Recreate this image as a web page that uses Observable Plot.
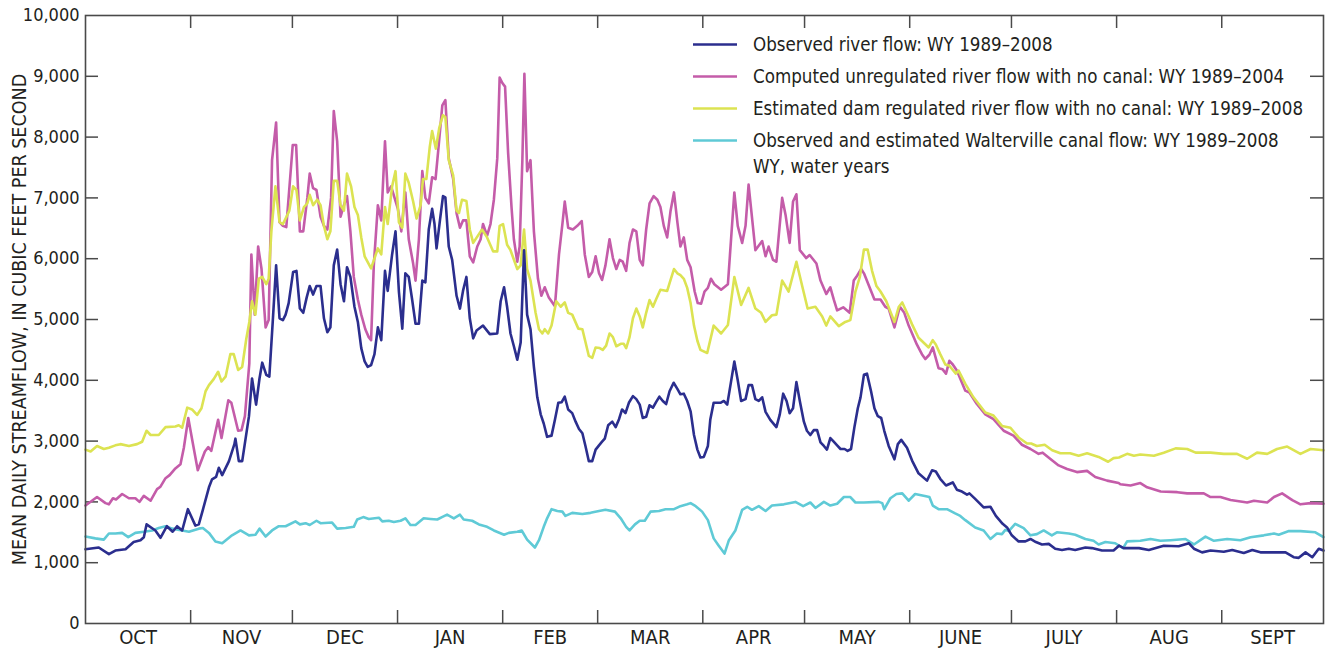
<!DOCTYPE html>
<html>
<head>
<meta charset="utf-8">
<script src="https://cdn.jsdelivr.net/npm/d3@7"></script>
<script src="https://cdn.jsdelivr.net/npm/@observablehq/plot@0.6"></script>
<style>
  html, body { margin: 0; padding: 0; background: #fff; }
  svg { display: block; }
  svg text { font-stretch: condensed; }
</style>
</head>
<body>
<div id="chart"></div>
<script>
// Day of water year (0 = Oct 1) and mean daily streamflow (cfs)
const observedFlow = [[0,1220],[3.9,1250],[6.9,1140],[8.8,1200],[11.8,1220],[14.2,1340],[16.2,1370],[17.2,1420],[18,1630],[20.6,1530],[22.1,1410],[24,1600],[25.7,1510],[27,1600],[28.5,1530],[30.2,1880],[32.4,1610],[33.4,1630],[34.6,1870],[36.4,2240],[37.3,2370],[38.5,2410],[39.3,2560],[40.3,2440],[42.3,2670],[43.9,2950],[44.2,3040],[45.2,2670],[46.2,2670],[48.2,3410],[49.1,4030],[50.3,3600],[51.3,4030],[52.1,4290],[53.3,4090],[54.2,4060],[55.2,4960],[56.2,5890],[57.2,5020],[58.2,4990],[59,5080],[59.9,5270],
[61.2,5780],[62.2,5800],[63.2,5180],[64.2,5110],[65.2,5360],[66.1,5550],[67.1,5410],[68.1,5550],[69.3,5550],[70.3,5020],[71.3,4790],[72.2,4870],[73.2,5890],[74.2,6150],[75.2,5580],[76.2,5300],[77.1,5860],[78.1,5700],[79.3,5210],[80.3,4960],[81.3,4530],[82.3,4310],[83.2,4220],[84.2,4250],[85.2,4430],[86.2,4870],[87.2,4660],[88.3,5800],[89.1,5470],[90.4,6070],[91.4,6450],[92.4,5460],[93.4,4850],[94.3,5760],[95.3,5700],[96.3,5330],[97.3,4930],[98.3,4930],[99.3,5640],[100.2,5610],[101.2,6480],[102.2,6820],[102.9,6570],[103.5,6170],[104.5,6630],[105.4,7030],[106.1,7010],[107.1,6200],[108.1,5980],[109.4,5390],[110.4,5180],[111.3,5470],[112.3,5700],[113.3,5020],[114.3,4690],[115.3,4820],[117.2,4900],[119.2,4760],[121.4,4770],
[122.4,5300],[123.4,5530],[124.3,5210],[125.3,4770],[126.3,4560],[127.3,4340],[128.3,4620],[129.3,6140],[130.2,5080],[131.2,4840],[132.2,4220],[133.2,3720],[134.2,3440],[135.1,3290],[136.1,3070],[137.4,3090],[138.4,3350],[139.4,3630],[140.4,3640],[141.3,3730],[142.3,3520],[143.5,3460],[144.5,3320],[145.5,3200],[146.5,3130],[147.4,2920],[148.4,2670],[149.4,2670],[150.4,2860],[151.4,2930],[152.3,2990],[153.1,3040],[154.1,3260],[155.3,3320],[156.3,3230],[157.3,3360],[158.2,3520],[159.2,3460],[160.2,3630],[161.4,3740],[162.4,3690],[163.4,3600],[164.3,3380],[165.3,3400],[166.3,3590],[167.3,3550],[168.3,3650],[169.2,3730],[170.2,3660],[171.2,3610],[172.2,3820],[173.4,3960],[174.5,3860],[175.4,3770],[176.4,3780],[177.4,3660],[178.4,3490],[179.4,3100],[180.4,2860],[181.3,2730],
[182.3,2740],[183.5,2920],[184.2,3350],[185.2,3630],[187.2,3630],[188.2,3660],[189.2,3600],[190.3,3970],[191.3,4310],[192.3,4000],[193.3,3660],[194.6,3690],[195.5,3920],[196.5,3920],[197.5,3690],[198.5,3660],[199.5,3720],[200.5,3480],[201.9,3350],[203.7,3230],[204.7,3440],[205.7,3780],[206.7,3660],[207.6,3460],[208.6,3540],[209.6,3970],[210.6,3660],[211.8,3320],[212.7,3170],[213.7,3100],[214.7,3180],[215.7,3180],[216.7,2980],[217.7,2920],[218.6,2860],[219.6,3050],[220.6,2990],[221.6,2930],[222.6,2870],[223.8,2870],[224.7,2840],[225.7,2870],[226.7,3230],[227.7,3540],[228.5,3720],[229.5,4090],[230.4,4110],[231.6,3820],[232.6,3540],[233.6,3410],[234.6,3380],[235.5,3170],[236.8,2920],[238.5,2700],[239.5,2950],[240.5,3020],[242.2,2890],
[243.7,2680],[245.6,2470],[248.1,2350],[249.6,2520],[250.7,2500],[252,2380],[253.7,2270],[255.7,2320],[256.9,2200],[258.4,2170],[259.9,2120],[260.6,2140],[262.3,2050],[264.8,1910],[266.8,1920],[268.4,1770],[270.4,1640],[271.7,1580],[273.1,1450],[275.1,1350],[277.1,1350],[278.6,1390],[280.2,1340],[282,1300],[284,1310],[285.9,1230],[287.9,1210],[289.9,1230],[291.8,1210],[294.8,1250],[296.7,1240],[299.7,1200],[303.1,1200],
[304.7,1280],[306.1,1240],[310.6,1240],[313.5,1210],[317.9,1280],[322.3,1270],[325.3,1320],[326.8,1230],[329.2,1170],[331.7,1200],[335.6,1180],[338.1,1210],[341.5,1160],[344,1210],[346.4,1170],[353.8,1170],[356.2,1090],[357.7,1080],[359.7,1170],[361.7,1090],[363.6,1230],[365,1200]];

const computedFlow = [[0,1940],[3.4,2080],[5.9,1980],[6.9,1960],[8.1,2060],[9,2040],[10.8,2130],[12.8,2060],[14.7,2060],[15.9,2000],[17.2,2100],[19.2,2020],[21.1,2210],[22.1,2250],[23.6,2390],[24.8,2440],[26.5,2550],[28,2620],[29,2890],[30.3,3380],[31.4,3040],[33.1,2520],[35.2,2830],[36.2,2900],[37.1,2840],[39.1,3350],[40.1,3050],[42.1,3670],[43,3630],[45,3170],[46,3180],[47,3410],[48.3,4280],[48.9,6070],[49.9,5080],[50.9,6200],[51.9,5830],[53.1,4870],[54,4990],[55,7620],[56.2,8240],[57.2,6600],[58.2,6540],[59.2,6520],[61.1,7870],[62.1,7870],
[63.2,6450],[64.2,6450],[65.4,7000],[66.1,7400],[67.1,7160],[68.1,7130],[69.3,6690],[70.3,6540],[71.3,6480],[72.4,7000],[73.2,8430],[74.2,7930],[75.2,6690],[76.2,6880],[77.1,7030],[78.1,6450],[79.1,5700],[80.3,5330],[81.3,5080],[82.5,4840],[83.5,4710],[84.2,4660],[85,5890],[86.2,6880],[87.2,6630],[88.3,7930],[89.1,7090],[90.1,7190],[92.1,6820],[93.1,6450],[94.3,7090],[95.3,6320],[96.6,5920],[97.3,5640],[98.3,6320],[99.3,7440],[100.2,7000],[101.2,6910],[102.2,7340],[103.2,7310],[104,7780],[105.2,8520],[106.1,8610],[107.1,7650],[108.4,7310],[109.4,6750],[110.4,6510],[111.3,6630],[112.3,6630],[113.3,6040],[114.3,5940],[115.5,6200],[116.5,6320],[117.2,6570],[118.4,6380],[119.4,6570],[120.4,6970],[121.4,7650],
[122.1,8980],[122.9,8890],[123.7,8830],[124.6,7740],[125.6,6850],[126.3,6320],[127.3,5950],[128,6200],[128.8,7620],[129.4,9040],[130.2,7440],[131.2,7620],[132.2,6450],[133.4,5670],[134.4,5390],[135.4,5530],[136.6,5360],[138.4,5220],[139.6,6070],[140.6,6570],[141.3,6940],[142.3,6510],[143.7,6480],[145,6540],[146.3,6620],[147.2,6070],[148.4,5700],[149.4,5780],[150.4,6040],[151.4,5760],[152.3,5650],[153.3,5890],[154.5,6320],[155.5,6010],[156.5,5830],[157.5,5980],[158.4,5950],[159.4,5800],[160.4,6260],[161.4,6480],[162.4,6450],[163.4,5980],[164.3,5890],[165.3,6480],[166.3,6910],[167.5,7030],[168.6,6970],[169.5,6850],[170.5,6540],[171.5,6350],[172.5,6790],[173.5,7090],[174.5,6600],[175.4,6200],[176.4,6350],[177.4,5980],[178.4,5860],[179.6,5460],[180.5,5270],[181.5,5260],
[182.5,5460],[183.5,5520],[184.4,5670],[185.4,5580],[187.4,5490],[189.4,5580],[191.3,7090],[192.3,6540],[193.6,6260],[194.6,6540],[195.5,7220],[197.5,6140],[199.5,6290],[200.5,6040],[201.4,6200],[202.7,5980],[203.7,5950],[205.4,7000],[206.4,6720],[207.6,6260],[208.6,6940],[209.6,7060],[210.6,6140],[212.5,6010],[213.5,6060],[215.5,5920],[216.7,5640],[218.4,5420],[219.6,5530],[220.6,5330],[221.6,5150],[223.4,5200],[225.3,5110],[226.5,5640],[227.5,5720],[228.7,5830],[229.6,5750],[232.6,5330],[234.4,5330],[235.8,5210],[236.8,5180],[238.5,4870],[240.1,5210],[241.4,5110],[242.7,4900],
[245.1,4590],[246.6,4430],[247.6,4350],[248.8,4420],[249.8,4540],[251.5,4200],[252.7,4180],[253.7,4110],[254.7,4320],[255.7,4260],[256.9,4160],[259.4,3830],[260.6,3800],[262.8,3610],[265.3,3440],[267.7,3360],[270.7,3170],[273.6,3090],[276.1,2940],[278.6,2870],[281,2790],[282.2,2810],[284.4,2710],[286.9,2600],[289.4,2540],[292.3,2490],[295.3,2510],[297.7,2410],[301.2,2350],[304.6,2310],
[305.1,2290],[308.1,2270],[311,2310],[313,2240],[317,2170],[321.9,2160],[324.8,2140],[329.7,2140],[331.7,2080],[334.6,2080],[337.6,2030],[342.5,1990],[344.5,2020],[348.4,1990],[350.4,2080],[352.8,2140],[355.8,2030],[358.2,1960],[361.2,1980],[365,1970]];

const estimatedFlow = [[0,2860],[1.5,2830],[3.4,2920],[5.4,2870],[6.9,2890],[8.8,2930],[10.3,2950],[12.8,2920],[15.2,2950],[16.7,2990],[18,3170],[19.2,3100],[21.6,3100],[23.6,3230],[26.5,3240],[27.5,3260],[28.5,3220],[30,3550],[31.4,3520],[32.9,3430],[34.2,3540],[35.4,3820],[36.4,3920],[37.8,4020],[39.1,4140],[40.1,3980],[41.3,4060],[42.7,4430],[43.7,4430],[45,4170],[46.2,4220],[47.4,4680],[48.3,4960],[49.1,5300],[50.1,5080],[51.1,5670],[52.1,5700],[53.3,5580],[54,5670],[54.8,6450],[56,7190],[57.2,6600],[58.2,6570],[59,6660],[60.1,6790],
[61.2,7190],[62.2,7130],[63.2,6630],[64.4,6850],[65.4,6910],[66.1,7050],[67.1,6880],[68.3,6970],[69.3,6880],[70.3,6540],[71.3,6320],[72.2,6450],[73.2,7280],[74.2,7280],[75.2,6880],[76.2,6790],[77.1,7400],[78.3,7190],[79.3,6850],[80.3,6720],[81.3,6350],[82.3,6040],[84.2,5840],[86.2,6170],[87.2,6070],[88.3,6850],[89.1,6570],[90.4,7190],[91.4,7440],[92.4,6600],[93.4,6510],[94.3,7400],[95.3,7250],[96.6,6940],[97.6,6660],[98.8,6880],[99.5,7310],[100.5,7310],[101.5,7840],[102.2,8100],[103.3,7810],[104.3,8150],[105.4,8360],[106.1,8330],[107.1,7620],[108.4,7370],[109.4,6790],[110.1,6750],[111,6970],[112.3,6950],[113.3,6480],[114.3,6260],[115.7,6380],[116.9,6480],[118.4,6350],[120.2,6120],[121.4,6120],
[122.1,6540],[123.1,6570],[124.3,6230],[125.3,6140],[127.3,5830],[128.3,5890],[129.3,6480],[130.2,5830],[131.2,5640],[132.7,5110],[133.7,4840],[134.7,4770],[135.4,4840],[136.4,4770],[137.4,4900],[138.8,5300],[140.1,5210],[141.3,5280],[142.3,5110],[143.5,5080],[145.3,4850],[146.5,4840],[148.4,4400],[149.4,4370],[150.4,4540],[151.6,4530],[152.5,4500],[153.5,4570],[154.5,4770],[155.5,4710],[156.5,4560],[157.8,4600],[158.7,4600],[159.4,4530],[160.4,4710],[161.4,5020],[162.4,5180],[163.4,5050],[164.3,4870],[165.3,5110],[166.3,5320],[167.3,5210],[168.3,5340],[169.5,5490],[171.5,5470],[172.5,5650],[173.5,5830],[174.5,5760],[175.4,5730],[176.4,5670],[177.4,5520],[178.4,5270],[179.4,4900],[180.4,4650],[181.3,4500],
[183.3,4450],[185.2,4900],[187.4,4770],[189.4,4910],[191.3,5700],[193.3,5240],[195.5,5520],[197.5,5180],[199.2,5110],[200.5,4960],[202.4,5070],[203.7,5080],[205.4,5640],[207.3,5460],[209.6,5950],[211.3,5550],[212.9,5180],[215.2,5210],[217.2,5050],[218.4,4900],[219.6,5050],[222.1,4890],[224,4960],[225.5,4990],[227,5460],[228.3,5700],[229.5,6150],[230.6,6150],[231.9,5800],[233.2,5550],[234.4,5460],[236.1,5300],[238.5,4960],[239.8,5210],[240.8,5280],[242.7,5050],
[243.7,4920],[245.6,4700],[248.6,4540],[249.8,4660],[250.7,4590],[252,4430],[253.5,4260],[254.7,4240],[256.6,4110],[257.4,4160],[259.4,3940],[261.8,3720],[265.3,3470],[267.7,3420],[270.2,3250],[272.7,3220],[275.1,3060],[277.6,2960],[278.8,2960],[280.5,2920],[282.8,2940],[285,2850],[287.4,2800],[290.3,2800],[292.8,2760],[295.3,2800],[298.7,2740],[301.5,2660],[303.1,2720],
[304.7,2730],[307.1,2790],[309.1,2760],[311,2780],[315,2760],[317.9,2810],[321.4,2880],[324.8,2870],[327.3,2810],[331.7,2810],[335.6,2790],[339.5,2790],[342.5,2710],[345.4,2810],[348.4,2790],[351.3,2870],[354.3,2910],[358.2,2790],[361.2,2870],[365,2850]];

const canalFlow = [[0,1430],[2.9,1400],[5.4,1380],[6.9,1480],[8.8,1480],[10.8,1490],[12.6,1420],[14.7,1490],[17.2,1510],[19.7,1530],[21.6,1570],[23.6,1600],[25.6,1560],[28.5,1530],[30.5,1510],[33.4,1560],[34.6,1570],[36.4,1490],[38.3,1350],[40.3,1320],[43.2,1450],[45.7,1530],[48.2,1450],[50.1,1460],[51.3,1560],[53.1,1430],[55,1530],[57,1600],[59,1600],
[61.9,1680],[63.2,1630],[64.9,1650],[66.1,1620],[68.1,1690],[69.3,1650],[72.7,1660],[74.2,1560],[76.7,1570],[79.1,1590],[80.1,1710],[81.9,1750],[83.5,1720],[86.5,1740],[87.5,1680],[89.4,1690],[90.9,1670],[92.9,1690],[94.3,1730],[95.8,1620],[97.3,1620],[99.7,1730],[101.7,1720],[103.7,1710],[105.1,1750],[106.6,1790],[108.6,1730],[110.4,1790],[111.5,1710],[114,1690],[116,1630],[118.4,1590],[120.4,1530],
[123.4,1460],[124.8,1490],[127.3,1510],[128.6,1530],[130.2,1380],[132.5,1250],[133.7,1370],[135.1,1590],[136.1,1730],[137.4,1880],[139.1,1850],[140.6,1840],[141.5,1770],[143.5,1820],[146.5,1800],[148.9,1820],[151.4,1850],[153.3,1870],[156.1,1840],[157.8,1730],[159.4,1590],[160.4,1530],[162,1630],[163.4,1690],[164.9,1690],[166.6,1840],[169.1,1850],[171,1880],[173.5,1880],[175.4,1930],[177.4,1960],[178.4,1980],[179.9,1930],[181.8,1840],
[183.5,1700],[185.2,1400],[186.7,1280],[188.4,1150],[189.7,1370],[191.6,1530],[193.6,1870],[195.1,1920],[196.5,1870],[198.5,1930],[200.5,1850],[202.4,1940],[205.9,1960],[209.3,2000],[211.6,1930],[213.7,1990],[215.2,1900],[217.7,2000],[219.6,1940],[221.6,1970],[223.6,2080],[225.5,2080],[227,1990],[229.5,1990],[233.9,2000],[234.9,1980],[235.5,1880],[237.3,2060],[239.1,2130],[240.8,2140],[242.7,2020],
[244.6,2130],[247.1,2100],[248.8,2080],[249.8,1940],[251.5,1880],[254,1880],[256.4,1810],[257.9,1770],[259.4,1700],[262.3,1580],[264.8,1530],[266.8,1390],[268.7,1480],[270.2,1470],[271.2,1540],[272.2,1520],[274.1,1640],[276.6,1570],[278.6,1450],[280.5,1470],[282.5,1530],[284.9,1450],[286.4,1500],[289.9,1480],[291.8,1460],[294.8,1390],[297.2,1360],[298.7,1300],[300.7,1340],[303.6,1320],
[305.9,1240],[307.1,1350],[311,1360],[314,1390],[316.9,1360],[319.9,1370],[324.3,1390],[326.8,1300],[330.2,1430],[332.7,1360],[336.6,1390],[340.5,1370],[343.5,1420],[347.4,1450],[350.4,1480],[351.8,1460],[354.8,1520],[358.2,1520],[362.6,1500],[365,1420]];

const monthNames = ["OCT","NOV","DEC","JAN","FEB","MAR","APR","MAY","JUNE","JULY","AUG","SEPT"];
const monthLengths = [31,30,31,31,28,31,30,31,30,31,31,30];
const yTickValues = [0,1000,2000,3000,4000,5000,6000,7000,8000,9000,10000];

const seriesNames = [
  "Observed river flow: WY 1989–2008",
  "Computed unregulated river flow with no canal: WY 1989–2004",
  "Estimated dam regulated river flow with no canal: WY 1989–2008",
  "Observed and estimated Walterville canal flow: WY 1989–2008"
];
const seriesColors = ["#2b2e8e", "#c45ca9", "#dce352", "#5fcad6"];
const legendNote = "WY, water years";
const yLabel = "MEAN DAILY STREAMFLOW, IN CUBIC FEET PER SECOND";

// derived month boundaries and midpoints
const monthStarts = d3.cumsum([0, ...monthLengths.slice(0, -1)]).map(Number);
const monthBounds = d3.cumsum([0, ...monthLengths]).map(Number);
const monthMids = monthStarts.map((s, i) => s + monthLengths[i] / 2);

const W = 1330, H = 655;
const mL = 85, mR = 7, mT = 15, mB = 32;
const plotW = W - mL - mR, plotH = H - mT - mB;
const tickLen = 13;
const font = "'DejaVu Sans', sans-serif";
const ink = "#231f20";
const axisInk = "#4a4a4a";

const innerTicks = yTickValues.filter(v => v > 0 && v < 10000);
const innerBounds = monthBounds.filter(v => v > 0 && v < 365);

const chart = Plot.plot({
  width: W,
  height: H,
  marginLeft: mL,
  marginRight: mR,
  marginTop: mT,
  marginBottom: mB,
  style: {fontFamily: font, color: ink, background: "#fff"},
  x: {domain: [0, 365]},
  y: {domain: [0, 10000]},
  marks: [
    Plot.axisY({ticks: yTickValues, tickSize: 0, tickPadding: 6, tickFormat: d3.format(","), fontSize: 18, label: null, fill: ink}),
    Plot.axisX({ticks: monthMids, tickSize: 0, tickPadding: 6, tickFormat: (d, i) => monthNames[i], fontSize: 20, label: null, fill: ink}),
    Plot.tickY(innerTicks, {y: d => d, insetRight: plotW - tickLen, stroke: axisInk, strokeWidth: 1.5}),
    Plot.tickY(innerTicks, {y: d => d, insetLeft: plotW - tickLen, stroke: axisInk, strokeWidth: 1.5}),
    Plot.tickX(innerBounds, {x: d => d, insetTop: plotH - tickLen, stroke: axisInk, strokeWidth: 1.5}),
    Plot.tickX(innerBounds, {x: d => d, insetBottom: plotH - tickLen, stroke: axisInk, strokeWidth: 1.5}),
    Plot.line(canalFlow, {x: d => d[0], y: d => d[1], stroke: seriesColors[3], strokeWidth: 2.6, strokeLinejoin: "round"}),
    Plot.line(computedFlow, {x: d => d[0], y: d => d[1], stroke: seriesColors[1], strokeWidth: 2.6, strokeLinejoin: "round"}),
    Plot.line(estimatedFlow, {x: d => d[0], y: d => d[1], stroke: seriesColors[2], strokeWidth: 2.6, strokeLinejoin: "round"}),
    Plot.line(observedFlow, {x: d => d[0], y: d => d[1], stroke: seriesColors[0], strokeWidth: 2.6, strokeLinejoin: "round"}),
    Plot.frame({stroke: axisInk, strokeWidth: 1.6}),
    Plot.text([yLabel], {frameAnchor: "left", rotate: -90, dx: -66, textAnchor: "middle", fontSize: 19.5, fill: ink, text: d => d})
  ]
});

// in-plot legend
const svg = d3.select(chart);
const lg = svg.append("g").attr("font-family", font).attr("font-size", 18.6).attr("fill", ink).attr("text-anchor", "start");
const rowY = [44.5, 76.5, 108.5, 140.5];
seriesNames.forEach((name, i) => {
  lg.append("line").attr("x1", 693).attr("x2", 737).attr("y1", rowY[i]).attr("y2", rowY[i])
    .attr("stroke", seriesColors[i]).attr("stroke-width", 2.6);
  lg.append("text").attr("x", 753).attr("y", rowY[i]).attr("dy", "0.36em").attr("text-anchor", "start").text(name);
});
lg.append("text").attr("x", 753).attr("y", 166).attr("dy", "0.36em").attr("text-anchor", "start").text(legendNote);

document.getElementById("chart").appendChild(chart);
</script>
</body>
</html>
